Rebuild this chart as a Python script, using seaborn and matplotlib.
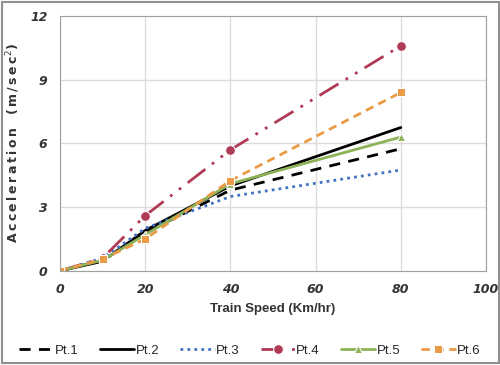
import numpy as np
import pandas as pd
import matplotlib.pyplot as plt
import seaborn as sns

# train speed (km/hr) and acceleration per point
speed = [0, 10, 20, 40, 80]
pt1 = [0, 0.5, 1.8, 3.8, 5.75]
pt2 = [0, 0.45, 1.9, 4.0, 6.75]
pt3 = [0, 0.6, 2.0, 3.5, 4.75]
pt4 = [0, 0.6, 2.6, 5.7, 10.6]
pt5 = [0, 0.5, 1.7, 4.1, 6.3]
pt6 = [0, 0.55, 1.5, 4.25, 8.4]
names = ['Pt.1', 'Pt.2', 'Pt.3', 'Pt.4', 'Pt.5', 'Pt.6']

sns.set_style('white')
plt.rcParams['font.family'] = ['DejaVu Sans']

fig = plt.figure(figsize=(5, 3.65), dpi=100)
ax = fig.add_axes([0.12, 0.258, 0.852, 0.698])

styles = [
    dict(color='black', linestyle=(0, (4, 3)), linewidth=2, marker=None),
    dict(color='black', linestyle='-', linewidth=2, marker=None),
    dict(color='#4472c4', linestyle=(0, (1, 1.5)), linewidth=2, marker=None),
    dict(color='#b03a55', linestyle=(0, (8, 3, 1, 3, 1, 3)), linewidth=2, marker='o', markersize=7),
    dict(color='#8db356', linestyle='-', linewidth=2, marker='^', markersize=6),
    dict(color='#eb9a45', linestyle=(0, (3, 2)), linewidth=2, marker='s', markersize=6),
]
for name, vals, st in zip(names, [pt1, pt2, pt3, pt4, pt5, pt6], styles):
    sns.lineplot(x=speed, y=vals, ax=ax, label=name, **st)

ax.set_xlim(0, 100)
ax.set_ylim(0, 12)
ax.set_xticks([0, 20, 40, 60, 80, 100])
ax.set_yticks([0, 3, 6, 9, 12])
ax.grid(True, color='#dcdcdc', linewidth=1)
for s in ax.spines.values():
    s.set_color('#a0a0a0')
ax.tick_params(length=0, pad=9)
for lab in ax.get_xticklabels() + ax.get_yticklabels():
    lab.set_fontstyle('italic')
    lab.set_fontweight('bold')
    lab.set_fontsize(9)
    lab.set_color('#333333')
ax.set_xlabel('Train Speed (Km/hr)', fontsize=9.5, family=['Liberation Sans', 'DejaVu Sans'],
              fontweight='bold', color='#333333', labelpad=5)
ylab = '\u2009'.join('Acceleration') + '\u2002\u2002' + '\u2009'.join('(m/sec') + '$^2$)'
ax.set_ylabel(ylab, fontsize=9, fontweight='bold', color='#333333', labelpad=6)
ax.legend(loc='center', bbox_to_anchor=(0.5, 0.04), bbox_transform=fig.transFigure,
          ncol=6, frameon=False, handlelength=2.6, columnspacing=1.6,
          handletextpad=0.1, prop={'family': ['Liberation Sans', 'DejaVu Sans'], 'size': 9.5})

fig.patches.append(plt.Rectangle((0.003, 0.005), 0.994, 0.99, transform=fig.transFigure,
                                 fill=False, edgecolor='#909090', linewidth=1.5))
fig.savefig('out.png', dpi=100)
